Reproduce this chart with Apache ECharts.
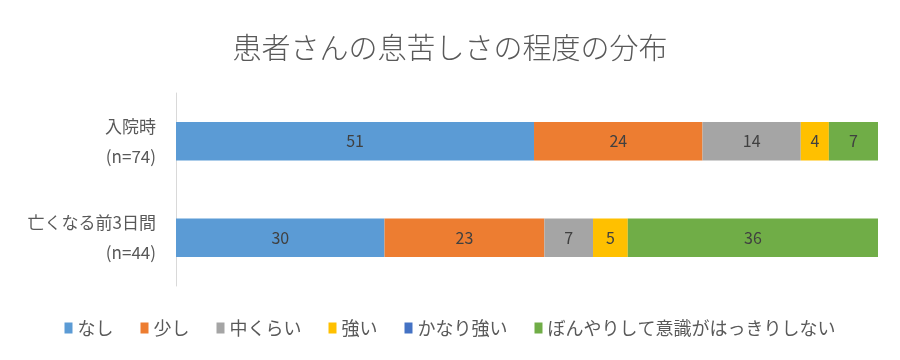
<!DOCTYPE html>
<html><head><meta charset="utf-8">
<script src="https://cdn.jsdelivr.net/npm/echarts@6/dist/echarts.min.js"></script>
<style>html,body{margin:0;padding:0;background:#fff}#c{width:900px;height:360px}</style>
</head><body><div id="c"></div>
<script>
const categories = ['入院時\n(n=74)', '亡くなる前3日間\n(n=44)'];
const seriesNames = ['なし', '少し', '中くらい', '強い', 'かなり強い', 'ぼんやりして意識がはっきりしない'];
const colors = ['#5B9BD5', '#ED7D31', '#A5A5A5', '#FFC000', '#4472C4', '#70AD47'];
const nashi = [51, 30];
const sukoshi = [24, 23];
const nakakurai = [14, 7];
const tsuyoi = [4, 5];
const kanariTsuyoi = [0, 0];
const bonyari = [7, 36];
const title = '患者さんの息苦しさの程度の分布';

const all = [nashi, sukoshi, nakakurai, tsuyoi, kanariTsuyoi, bonyari];
const totals = categories.map((_, i) => all.reduce((s, a) => s + a[i], 0));
const FONT = 'Noto Sans CJK JP';

const chart = echarts.init(document.getElementById('c'));
chart.setOption({
  animation: false,
  title: { text: title, left: 'center', top: 28, textStyle: { fontFamily: FONT, fontSize: 29, fontWeight: 300, color: '#595959' } },
  legend: {
    top: 314, left: 'center', itemWidth: 8, itemHeight: 11, itemGap: 27,
    icon: 'rect',
    textStyle: { fontFamily: FONT, fontSize: 18, color: '#595959' },
    data: seriesNames
  },
  grid: { left: 176, right: 22, top: 93, height: 193 },
  xAxis: { type: 'value', min: 0, max: 100, show: false },
  yAxis: {
    type: 'category', data: categories, inverse: true,
    axisLine: { lineStyle: { color: '#D9D9D9' } }, axisTick: { show: false },
    axisLabel: { fontFamily: FONT, fontSize: 17, color: '#595959', lineHeight: 30, margin: 20, align: 'right' }
  },
  series: all.map((arr, k) => ({
    name: seriesNames[k], type: 'bar', stack: 'a', barWidth: '40%',
    itemStyle: { color: colors[k] },
    label: {
      show: true, position: 'inside', fontFamily: FONT, fontSize: 16, color: '#404040',
      formatter: p => arr[p.dataIndex] > 0 ? String(arr[p.dataIndex]) : ''
    },
    data: arr.map((v, i) => v / totals[i] * 100)
  }))
});
</script></body></html>
